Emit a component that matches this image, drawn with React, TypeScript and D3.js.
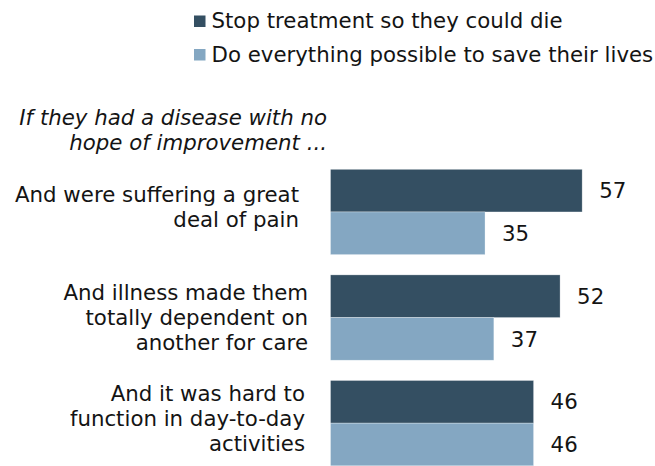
import React from "react";
import * as d3 from "d3";

const categories: string[][] = [
  ["And were suffering a great", "deal of pain"],
  ["And illness made them", "totally dependent on", "another for care"],
  ["And it was hard to", "function in day-to-day", "activities"],
];
const seriesNames = ["Stop treatment so they could die", "Do everything possible to save their lives"];
const stopValues = [57, 52, 46];
const saveValues = [35, 37, 46];
const subtitleLines = ["If they had a disease with no", "hope of improvement ..."];

const W = 655;
const H = 466;
const COLORS = ["#344f62", "#84a7c2"];
const FONT = "'DejaVu Sans', Verdana, sans-serif";
const FS = 21.3;
const TEXT = "#141414";
// small per-group label layout nudges (dx, dy)
const labelDx = [-9, 0, -3];
const labelDy = [0, 5.5, 0];

export default function App() {
  const groups = categories.map((_, i) => `g${i}`);
  const y = d3.scaleBand<string>().domain(groups).range([169.3, 465.8]).paddingInner(0.192).paddingOuter(0);
  const inner = d3.scaleBand<string>().domain(seriesNames).range([0, y.bandwidth()]).padding(0);
  const x = d3.scaleLinear().domain([0, 100]).range([330.5, 330.5 + 441.5]);
  const series = [stopValues, saveValues];

  return (
    <svg width={W} height={H} style={{ position: "absolute", left: 0, top: 0, background: "#fff" }} fontFamily={FONT}>
      {/* legend */}
      {seriesNames.map((name, i) => (
        <g key={name}>
          <rect x={194} y={15.5 + i * 33.5} width={11.5} height={11.5} fill={COLORS[i]} />
          <text x={211.5} y={28.3 + i * 33.4} fontSize={FS} fill={TEXT}>
            {name}
          </text>
        </g>
      ))}
      {/* subtitle */}
      {subtitleLines.map((t, i) => (
        <text key={t} x={327} y={125 + i * 25} fontSize={FS} fontStyle="italic" textAnchor="end" fill={TEXT}>
          {t}
        </text>
      ))}
      {/* bars */}
      {groups.map((g, gi) => {
        const y0 = y(g)!;
        const center = y0 + y.bandwidth() / 2;
        const lines = categories[gi];
        return (
          <g key={g}>
            {lines.map((ln, li) => (
              <text
                key={li}
                x={308 + labelDx[gi]}
                y={center + 2.4 + labelDy[gi] + (li - (lines.length - 1) / 2) * 25}
                fontSize={FS}
                textAnchor="end"
                fill={TEXT}
              >
                {ln}
              </text>
            ))}
            {seriesNames.map((s, si) => {
              const v = series[si][gi];
              const by = y0 + inner(s)!;
              const bh = inner.bandwidth();
              return (
                <g key={s}>
                  <rect
                    x={x(0)}
                    y={by}
                    width={x(v) - x(0)}
                    height={bh}
                    fill={COLORS[si]}
                    stroke="#ffffff"
                    strokeOpacity={0.5}
                    strokeWidth={0.6}
                  />
                  <text x={x(v) + 17} y={by + bh / 2} dy="0.36em" fontSize={FS} fill={TEXT}>
                    {v}
                  </text>
                </g>
              );
            })}
          </g>
        );
      })}
    </svg>
  );
}
